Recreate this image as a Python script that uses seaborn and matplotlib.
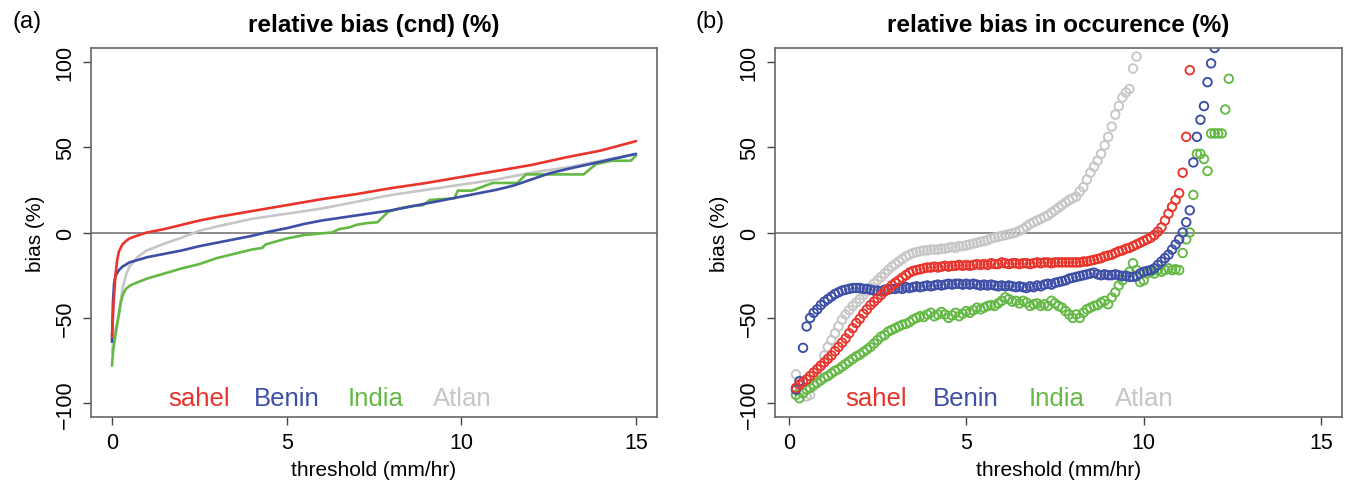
import numpy as np
import pandas as pd
import seaborn as sns
import matplotlib
matplotlib.use("Agg")
import matplotlib.pyplot as plt

# ---- data -------------------------------------------------------------
regions = ["sahel", "Benin", "India", "Atlan"]
colors = {"sahel": "#E8342B", "Benin": "#3C4EA6", "India": "#63B944", "Atlan": "#C6C6C6"}

# (a) relative bias of the conditional distribution, lines
sahel_cnd_x = [0, 0.05, 0.1, 0.15, 0.2, 0.3, 0.4, 0.5, 0.7, 1.0, 1.5, 2, 2.5, 3, 4, 5, 6, 7, 8,
               9, 10, 11, 12, 13, 14, 15]
sahel_cnd_y = [-61, -40, -25, -16, -11, -7, -5, -3.5, -2, 0, 2, 4.5, 7, 9, 12.5, 16, 19.5, 22.5,
               26, 29, 32.5, 36, 39.5, 44, 48, 53.5]

benin_cnd_x = [0, 0.03, 0.06, 0.1, 0.2, 0.3, 0.5, 0.75, 1, 1.5, 2, 2.5, 3, 3.5, 4, 4.5, 5, 5.5,
               6, 7, 7.5, 8, 8.5, 9, 9.5, 10, 10.5, 11, 11.5, 12, 12.5, 13, 14, 15]
benin_cnd_y = [-64, -40, -30, -25.5, -22, -20, -17.5, -16, -14.5, -12.5, -10.5, -8, -6, -4, -2,
               0.5, 2.5, 5, 7, 10, 11.5, 13, 15, 17, 19, 21, 23, 25, 27.5, 31, 34.5, 37, 41.5, 46]

india_cnd_x = [0, 0.03, 0.1, 0.18, 0.25, 0.32, 0.4, 0.52, 0.75, 1.0, 1.5, 2.0, 2.5, 3.0, 3.5,
               3.8, 4.0, 4.3, 4.4, 4.6, 5.0, 5.5, 6.0, 6.3, 6.5, 6.8, 7.0, 7.3, 7.6, 7.9, 8.2,
               8.6, 8.9, 9.1, 9.4, 9.8, 9.9, 10.3, 10.5, 10.9, 11.6, 11.85, 13.5, 13.85, 14.3,
               14.85, 15]
india_cnd_y = [-78, -70, -60, -50, -41, -36, -33, -31, -29, -27, -24, -21, -18.5, -15, -12.5,
               -11, -10, -9, -7, -5.8, -3.5, -1.5, -0.5, 0, 2, 3, 4.5, 5.5, 6, 12, 14, 15.5,
               16, 19, 19.5, 20, 24.5, 24.5, 26, 29, 29, 34, 34, 40, 42, 42, 45]

atlan_cnd_x = [0, 0.05, 0.1, 0.2, 0.3, 0.4, 0.5, 0.75, 1.0, 1.5, 2, 2.5, 3, 4, 5, 6, 7, 8, 9,
               10, 11, 12, 13, 14, 15]
atlan_cnd_y = [-70, -62, -57, -48, -33, -25, -20, -14, -10.5, -6.5, -3, 1, 3.5, 8, 11, 14, 18,
               22, 25, 28, 31, 35, 38, 42, 46]

# (b) relative bias in occurrence, one value every 0.1 mm/hr starting at 0.2
sahel_occ = [-91, -89, -87.5, -86, -84, -82, -80, -78, -76, -74, -72, -69.5, -67, -64.5, -62,
             -59, -56, -53, -50.5, -47.5, -45, -42.5, -40.5, -38.5, -36.5, -34.5, -33, -31,
             -29.5, -28, -26.5, -25, -23.5, -22.5, -22, -21.5, -21, -20.5, -20.5, -20, -20.5,
             -20, -19.5, -20, -19.5, -19.5, -19, -19.5, -19, -19.5, -19, -18.5, -19, -18.5,
             -19, -18, -18.5, -18.5, -17.5, -18, -18.5, -18, -18, -18.5, -18, -18, -18.5, -18,
             -17.5, -18, -17.5, -17.5, -18, -17.5, -17.5, -17.5, -17.5, -17.5, -17.5, -17.5,
             -17.5, -17, -17, -16.5, -16, -15.5, -15, -14, -13.5, -13, -12, -11, -10.5, -9.5,
             -9, -8, -7, -6, -5, -4, -3, -1.5, 0.5, 3, 7, 11, 15, 19, 23, 35, 56, 95]
benin_occ = [-92, -87, -67.5, -55, -50, -47, -45, -42.5, -40.5, -39, -37.5, -36, -35, -34,
             -33.5, -33, -32.5, -32.5, -32.5, -33, -33, -33.5, -34, -34, -34.5, -33.5, -33.5,
             -33, -33, -32.5, -33, -32, -32.5, -32, -31.5, -32, -31.5, -31, -31.5, -31, -30.5,
             -31, -30.5, -30, -30.5, -30, -30, -30.5, -30, -30.5, -30, -30.5, -31, -30.5, -31,
             -30.5, -31, -31.5, -31, -31.5, -31, -31.5, -32, -31.5, -32, -32.5, -31.5, -32, -31,
             -31.5, -30.5, -30, -30.5, -29.5, -29, -28.5, -28, -27, -26.5, -26, -25.5, -25,
             -24.5, -24, -23.5, -24.5, -25, -24.5, -25, -25, -24.5, -25, -25.5, -25.5, -26,
             -26, -25.5, -24, -23, -22.5, -22, -21, -19, -17, -15, -13, -10, -7, -4, 0, 6, 13,
             41, 56, 66, 74, 88, 99, 108]
india_occ = [-95, -97, -94, -92, -91, -89, -88, -86.5, -85, -84, -82.5, -81, -80, -78.5, -77,
             -75.5, -74, -72.5, -71.5, -70, -68.5, -67, -65, -63, -61, -60, -58, -57, -56, -55,
             -54, -53.5, -52.5, -51, -50, -49, -49.5, -48, -47, -49, -48, -46.5, -48, -50,
             -48.5, -47, -49, -47.5, -46, -47, -45.5, -44, -45, -44, -43, -42.5, -43, -41.5,
             -40, -38, -39, -40.5, -40, -41.5, -40, -41, -43, -42, -41.5, -43, -42, -43, -40,
             -41.5, -43, -44, -46, -48, -50, -48, -50, -47, -45, -44, -43, -42.5, -41, -40, -42,
             -38, -35, -31, -28, -25, -23, -18, -22, -29, -28, -24, -23, -24, -22, -23, -22,
             -21, -22, -21.5, -22, -12, -4, 0, 22, 46, 46, 43, 36, 58, 58, 58, 58, 72, 90]
atlan_occ = [-83, -90, -94, -96, -95, -90, -84, -78, -72, -67, -63, -59, -55, -51, -48, -45.5,
             -43, -41, -39, -36.5, -34.5, -32.5, -30, -28, -26, -24, -22, -20, -18.5, -17,
             -15.5, -14, -13, -12, -11.5, -11, -10.5, -10.5, -10, -10, -10, -9.5, -9.5, -9,
             -8.5, -9, -8, -8, -7.5, -7, -6.5, -6, -5.5, -5, -4.5, -3.5, -3, -2.5, -2, -1.5,
             -1, -0.5, 0, 1, 2, 3.5, 5, 6, 7, 8, 9, 10, 11.5, 13, 14.5, 16, 17.5, 19, 20, 21,
             24, 26.5, 31, 35, 38.5, 42, 46, 51, 56, 62, 69, 74, 79, 82, 84, 96, 103]

cnd = pd.concat([
    pd.DataFrame({"threshold": sahel_cnd_x, "bias": sahel_cnd_y, "region": "sahel"}),
    pd.DataFrame({"threshold": benin_cnd_x, "bias": benin_cnd_y, "region": "Benin"}),
    pd.DataFrame({"threshold": india_cnd_x, "bias": india_cnd_y, "region": "India"}),
    pd.DataFrame({"threshold": atlan_cnd_x, "bias": atlan_cnd_y, "region": "Atlan"}),
], ignore_index=True)

occ_parts = []
for name, vals in zip(regions, [sahel_occ, benin_occ, india_occ, atlan_occ]):
    thr = np.round(0.2 + 0.1 * np.arange(len(vals)), 1)  # threshold grid, 0.1 mm/hr steps
    occ_parts.append(pd.DataFrame({"threshold": thr, "bias": vals, "region": name}))
occ = pd.concat(occ_parts, ignore_index=True)

# ---- style ------------------------------------------------------------
sns.set_theme(style="white")
plt.rcParams["font.family"] = ["Liberation Sans", "DejaVu Sans"]
plt.rcParams["axes.edgecolor"] = "#666666"
plt.rcParams["axes.linewidth"] = 1.2
plt.rcParams["text.color"] = "black"
plt.rcParams["axes.labelcolor"] = "black"
plt.rcParams["xtick.color"] = "black"
plt.rcParams["ytick.color"] = "black"

fig = plt.figure(figsize=(13.46, 4.85), dpi=100)
ax1 = fig.add_axes([91 / 1346, 67 / 485, 566 / 1346, 369 / 485])
ax2 = fig.add_axes([775 / 1346, 67 / 485, 567 / 1346, 369 / 485])

sns.lineplot(data=cnd, x="threshold", y="bias", hue="region", palette=colors,
             hue_order=regions[::-1], estimator=None, sort=False, lw=1.9,
             legend=False, ax=ax1)

# draw sahel last so it stays on top like the original
for name in ["Atlan", "India", "Benin", "sahel"]:
    sns.scatterplot(data=occ[occ.region == name], x="threshold", y="bias", marker="o",
                    s=38, facecolors="none", edgecolor=colors[name], linewidth=1.35,
                    legend=False, ax=ax2, clip_on=True)

titles = ["relative bias (cnd) (%)", "relative bias in occurence (%)"]
for ax, title, xlim in zip([ax1, ax2], titles, [(-0.6, 15.6), (-0.39, 15.59)]):
    ax.axhline(0, color="#777777", lw=1.2, zorder=0)
    ax.set_xlim(*xlim)
    ax.set_ylim(-108, 108)
    ax.set_xticks([0, 5, 10, 15])
    ax.set_yticks([-100, -50, 0, 50, 100])
    ax.set_yticklabels(["\u2212100", "\u221250", "0", "50", "100"])
    ax.tick_params(axis="both", direction="out", length=6, width=1, color="#444444",
                   labelcolor="black", labelsize=15.5, pad=5, bottom=True, left=True)
    ax.tick_params(axis="y", labelrotation=90)
    for t in ax.get_yticklabels():
        t.set_va("center")
    ax.set_xlabel("threshold (mm/hr)", fontsize=15, labelpad=5)
    ax.set_ylabel("bias (%)", fontsize=15, labelpad=7)
    ax.set_title(title, fontsize=17.5, fontweight="bold", pad=12)
    for xpos, name in zip([1.6, 4.05, 6.75, 9.2], regions):
        ax.text(xpos, -97, name, color=colors[name], fontsize=18.5, ha="left", va="center")

fig.text(27 / 1346, 1 - 22 / 485, "(a)", fontsize=17, ha="center", va="center")
fig.text(710 / 1346, 1 - 22 / 485, "(b)", fontsize=17, ha="center", va="center")

fig.savefig("out.png", dpi=100)
